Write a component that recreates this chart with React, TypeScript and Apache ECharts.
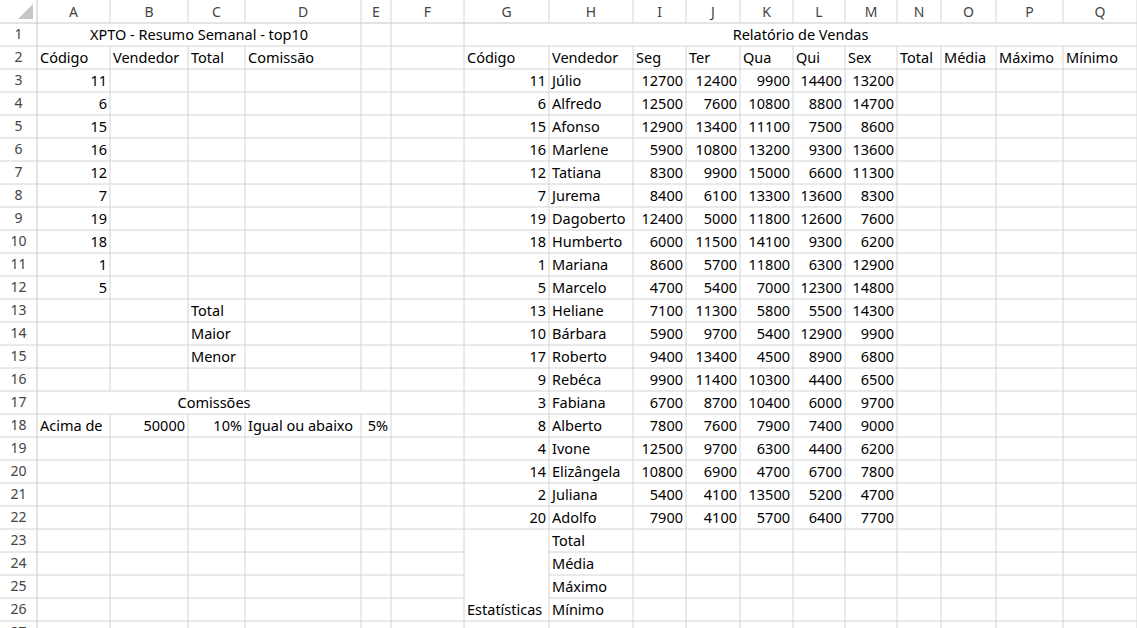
import React, { useEffect, useRef } from 'react';
import * as echarts from 'echarts';

const colLetters = ['A','B','C','D','E','F','G','H','I','J','K','L','M','N','O','P','Q'];
const colEdges = [37,110,188,245,361,391,464,549,633,686,740,793,845,897,941,996,1063,1137];
const codes = [11,6,15,16,12,7,19,18,1,5,13,10,17,9,3,8,4,14,2,20];
const names = ['Júlio','Alfredo','Afonso','Marlene','Tatiana','Jurema','Dagoberto','Humberto','Mariana','Marcelo','Heliane','Bárbara','Roberto','Rebéca','Fabiana','Alberto','Ivone','Elizângela','Juliana','Adolfo'];
const seg = [12700,12500,12900,5900,8300,8400,12400,6000,8600,4700,7100,5900,9400,9900,6700,7800,12500,10800,5400,7900];
const ter = [12400,7600,13400,10800,9900,6100,5000,11500,5700,5400,11300,9700,13400,11400,8700,7600,9700,6900,4100,4100];
const qua = [9900,10800,11100,13200,15000,13300,11800,14100,11800,7000,5800,5400,4500,10300,10400,7900,6300,4700,13500,5700];
const qui = [14400,8800,7500,9300,6600,13600,12600,9300,6300,12300,5500,12900,8900,4400,6000,7400,4400,6700,5200,6400];
const sex = [13200,14700,8600,13600,11300,8300,7600,6200,12900,14800,14300,9900,6800,6500,9700,9000,6200,7800,4700,7700];
const salesHeaders = ['Código','Vendedor','Seg','Ter','Qua','Qui','Sex','Total','Média','Máximo','Mínimo'];
const summaryHeaders = ['Código','Vendedor','Total','Comissão'];
const statLabels = ['Total','Média','Máximo','Mínimo'];
const summaryLabels = ['Total','Maior','Menor'];
const commissionRow = ['Acima de', 50000, '10%', 'Igual ou abaixo', '5%'];

const ROW_H = 23;
const HEAD_H = 23;
const NROWS = 27;

type Cell = { c: number; r: number; t: string | number; align?: 'left' | 'right' | 'center'; c2?: number };
// merges: [c1, r1, c2, r2] with 0-based col, 1-based row
const merges: [number, number, number, number][] = [[0,1,3,1],[6,1,16,1],[0,17,4,17],[6,23,6,26]];

function inMerge(c: number, r: number) {
  return merges.findIndex(m => c >= m[0] && c <= m[2] && r >= m[1] && r <= m[3]);
}

export default function App() {
  const ref = useRef<HTMLDivElement>(null);
  useEffect(() => {
    if (!ref.current) return;
    const chart = echarts.init(ref.current, null, { renderer: 'svg' });
    const cells: Cell[] = [];
    cells.push({ c: 0, r: 1, c2: 3, t: 'XPTO - Resumo Semanal - top10', align: 'center' });
    cells.push({ c: 6, r: 1, c2: 16, t: 'Relatório de Vendas', align: 'center' });
    summaryHeaders.forEach((h, i) => cells.push({ c: i, r: 2, t: h }));
    salesHeaders.forEach((h, i) => cells.push({ c: 6 + i, r: 2, t: h }));
    codes.slice(0, 10).forEach((v, i) => cells.push({ c: 0, r: 3 + i, t: v }));
    summaryLabels.forEach((v, i) => cells.push({ c: 2, r: 13 + i, t: v }));
    cells.push({ c: 0, r: 17, c2: 4, t: 'Comissões', align: 'center' });
    commissionRow.forEach((v, i) => cells.push({ c: i, r: 18, t: v, align: typeof v === 'number' || String(v).endsWith('%') ? 'right' : 'left' }));
    codes.forEach((v, i) => {
      const r = 3 + i;
      cells.push({ c: 6, r, t: v });
      cells.push({ c: 7, r, t: names[i] });
      [seg, ter, qua, qui, sex].forEach((arr, k) => cells.push({ c: 8 + k, r, t: arr[i] }));
    });
    statLabels.forEach((v, i) => cells.push({ c: 7, r: 23 + i, t: v }));
    cells.push({ c: 6, r: 26, t: 'Estatísticas' });

    const font = '"Noto Sans", "Open Sans", sans-serif';
    const els: any[] = [];
    const yTop = (r: number) => HEAD_H + (r - 1) * ROW_H;
    // grid lines
    for (let r = 1; r <= NROWS; r++) {
      for (let c = 0; c < colLetters.length; c++) {
        const x1 = colEdges[c + 1], y0 = yTop(r), y1 = yTop(r + 1);
        const m = inMerge(c, r);
        if (!(m >= 0 && inMerge(c + 1, r) === m)) {
          els.push({ type: 'line', shape: { x1, y1: y0, x2: x1, y2: y1 }, style: { stroke: '#d4d4d4', lineWidth: 1 }, silent: true });
        }
        if (!(m >= 0 && inMerge(c, r + 1) === m)) {
          els.push({ type: 'line', shape: { x1: colEdges[c], y1: y1, x2: x1, y2: y1 }, style: { stroke: '#d4d4d4', lineWidth: 1 }, silent: true });
        }
      }
    }
    // headers
    els.push({ type: 'line', shape: { x1: 0, y1: HEAD_H, x2: 1137, y2: HEAD_H }, style: { stroke: '#c8c8c8' } });
    els.push({ type: 'line', shape: { x1: colEdges[0], y1: 0, x2: colEdges[0], y2: 628 }, style: { stroke: '#c8c8c8' } });
    els.push({ type: 'polygon', shape: { points: [[33, 4], [33, 19], [18, 19]] }, style: { fill: '#c6c6c6' } });
    colLetters.forEach((l, c) => {
      els.push({ type: 'line', shape: { x1: colEdges[c + 1], y1: 0, x2: colEdges[c + 1], y2: HEAD_H }, style: { stroke: '#d4d4d4' } });
      els.push({ type: 'text', x: (colEdges[c] + colEdges[c + 1]) / 2, y: HEAD_H / 2, style: { text: l, fill: '#444', font: `14px ${font}`, align: 'center', verticalAlign: 'middle' } });
    });
    for (let r = 1; r <= NROWS; r++) {
      els.push({ type: 'line', shape: { x1: 0, y1: yTop(r + 1), x2: colEdges[0], y2: yTop(r + 1) }, style: { stroke: '#d4d4d4' } });
      els.push({ type: 'text', x: colEdges[0] / 2, y: yTop(r) + ROW_H / 2 - 1, style: { text: String(r), fill: '#444', font: `14px ${font}`, align: 'center', verticalAlign: 'middle' } });
    }
    // cell texts
    cells.forEach(cell => {
      const align = cell.align ?? (typeof cell.t === 'number' ? 'right' : 'left');
      const xl = colEdges[cell.c], xr = colEdges[(cell.c2 ?? cell.c) + 1];
      const x = align === 'left' ? xl + 3 : align === 'right' ? xr - 3 : (xl + xr) / 2;
      els.push({ type: 'text', x, y: yTop(cell.r) + ROW_H / 2 - 1, style: { text: String(cell.t), fill: '#000', font: `14.5px ${font}`, align, verticalAlign: 'middle' } });
    });

    chart.setOption({ animation: false, backgroundColor: '#fff', graphic: { elements: els } });
    return () => chart.dispose();
  }, []);
  return <div ref={ref} style={{ position: 'fixed', left: 0, top: 0, width: '1137px', height: '628px' }} />;
}
